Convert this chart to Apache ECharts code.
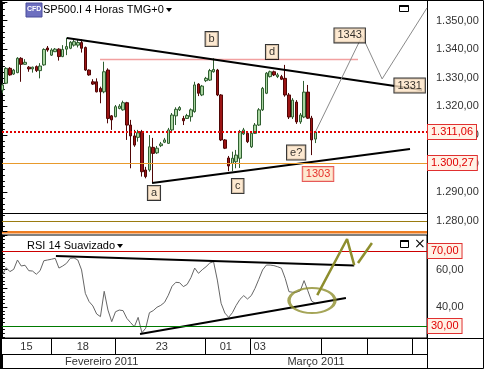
<!DOCTYPE html>
<html><head><meta charset="utf-8">
<script src="https://cdn.jsdelivr.net/npm/echarts@6/dist/echarts.min.js"></script>
<style>html,body{margin:0;padding:0;background:#fff}#c{width:484px;height:369px}</style>
</head><body><div id="c"></div>
<script>
// ---- candle data (4h bars) ----
const opens  = [1325.7,1328.1,1333.3,1331.3,1331.8,1336.8,1334.7,1333.7,1333.1,1333.9,1332.5,1334.5,1340.4,1337.9,1339.1,1340.0,1337.4,1340.0,1340.3,1341.4,1341.4,1342.3,1340.6,1332.7,1328.6,1328.6,1326.3,1325.1,1332.7,1316.7,1316.4,1319.3,1318.8,1321.3,1313.5,1309.7,1309.2,1311.2,1297.8,1297.8,1305.7,1303.8,1306.3,1307.5,1307.1,1311.8,1316.7,1318.8,1315.8,1315.8,1316.4,1318.2,1327.8,1324.0,1329.0,1329.2,1332.1,1332.7,1324.0,1308.3,1302.0,1300.1,1300.7,1301.9,1310.4,1310.6,1305.9,1310.6,1313.5,1318.8,1324.6,1330.4,1332.1,1330.4,1330.4,1329.8,1324.0,1316.3,1321.5,1314.6,1316.3,1325.0,1315.9,1308.6];
const closes = [1327.5,1333.3,1331.0,1332.7,1336.8,1334.7,1335.4,1333.1,1333.7,1332.5,1334.1,1339.9,1339.7,1339.7,1340.0,1337.4,1339.9,1340.9,1342.4,1342.6,1342.3,1340.3,1332.7,1331.0,1327.8,1325.1,1325.1,1332.1,1315.8,1315.3,1319.9,1320.1,1321.3,1313.5,1309.7,1306.5,1310.8,1297.2,1295.5,1305.9,1303.6,1305.4,1306.9,1308.3,1311.8,1317.0,1319.0,1319.6,1315.0,1316.8,1318.8,1327.5,1324.6,1327.1,1329.8,1332.5,1332.9,1324.0,1308.3,1305.4,1299.2,1301.9,1303.0,1311.2,1311.8,1307.7,1310.6,1313.5,1318.8,1326.3,1331.6,1332.1,1331.0,1331.0,1329.5,1324.0,1316.3,1322.2,1314.6,1317.0,1325.0,1315.9,1308.3,1311.06];
const lows   = [1324.6,1327.8,1330.7,1331.0,1331.6,1328.6,1334.6,1332.1,1331.8,1332.0,1329.8,1334.2,1339.1,1337.6,1339.0,1336.0,1337.2,1337.9,1340.0,1340.9,1340.6,1338.8,1332.4,1330.7,1327.5,1324.9,1321.1,1324.6,1314.1,1311.8,1316.2,1319.0,1318.5,1308.3,1298.4,1305.9,1307.7,1295.5,1294.9,1297.2,1293.2,1303.4,1305.8,1307.2,1306.9,1311.4,1313.5,1318.4,1313.5,1315.6,1314.7,1317.8,1323.6,1323.6,1328.5,1328.9,1331.8,1323.6,1307.9,1305.1,1297.4,1297.4,1298.4,1298.5,1310.0,1307.2,1305.5,1310.4,1313.2,1318.4,1324.3,1330.1,1330.6,1329.9,1329.2,1323.4,1315.6,1315.6,1313.9,1313.9,1315.9,1315.6,1303.0,1307.2];
const highs  = [1328.1,1333.7,1333.7,1333.1,1337.2,1337.2,1336.5,1334.1,1333.9,1334.3,1335.1,1340.3,1341.1,1340.3,1340.4,1340.3,1341.4,1344.0,1342.8,1343.2,1343.2,1343.4,1340.9,1332.9,1329.5,1329.8,1326.9,1335.6,1333.3,1317.0,1320.5,1320.8,1322.0,1321.6,1315.3,1311.8,1311.8,1311.8,1298.9,1310.0,1309.0,1306.2,1307.6,1309.0,1312.5,1317.7,1319.7,1320.1,1316.7,1317.4,1319.3,1328.6,1328.1,1327.5,1330.3,1333.1,1336.8,1333.1,1324.3,1308.6,1302.7,1304.2,1304.8,1311.8,1312.5,1311.1,1311.1,1314.2,1319.4,1326.8,1332.0,1332.5,1332.5,1331.7,1331.0,1334.5,1324.7,1322.9,1322.2,1317.7,1328.9,1327.5,1316.7,1311.3];
// ---- RSI 14 smoothed ----
const rsiValues = [57.2,61.1,59.0,60.2,65.2,62.0,62.4,59.5,59.3,57.6,59.5,64.8,65.2,65.6,66.1,60.9,62.0,63.4,66.1,66.3,65.2,59.9,47.4,43.0,40.7,36.4,35.0,48.5,38.5,32.3,37.6,38.5,38.2,34.1,31.8,29.6,34.6,26.4,28.8,37.1,38.2,40.0,41.0,42.6,46.4,51.2,53.3,53.1,51.0,52.2,55.8,60.9,58.1,60.0,61.6,63.6,64.3,54.5,42.1,36.9,34.6,37.1,41.0,44.2,46.2,44.4,46.2,50.1,54.9,59.9,62.5,62.5,62.2,61.6,60.8,55.4,48.3,48.0,48.0,48.8,54.2,48.8,43.3,42.1];
// ---- time axis ----
const slotCount = 113;
const dayLabels = {6:'15', 21:'18', 42:'23', 59:'01', 68:'03'};
const daySeparators = [13, 30, 54, 66, 85, 97, 109];
const monthLabels = {26:'Fevereiro 2011', 83:'Março 2011'};
const monthSeparators = [54];
// ---- levels & annotations ----
const lastPrice = 1311.06;
const supportPrice = 1300.27;
const lowerLevels = [1282.8, 1280.0];
const rsiUpper = 70, rsiLower = 30;
const priceTopTrend = [[17.1, 1343.9], [111.3, 1325.7]];
const priceBottomTrend = [[39.7, 1293.3], [108.1, 1305.1]];
const resistanceLine = [[25.9, 1336.4], [94.3, 1336.4]];
const projectionPath = [[83, 1311.06], [95.4, 1344.6], [100.7, 1329.6], [112.6, 1354.4]];
const waveLabelNames = ['a', 'b', 'c', 'd', 'e?', '1303', '1343', '1331'];
const waveLabelX = [40.2, 55.5, 62.4, 71.5, 77.9, 83.7, 92.1, 108.0];
const waveLabelY = [1289.8, 1343.5, 1292.2, 1339.0, 1303.9, 1296.4, 1344.8, 1327.3];
const rsiTopTrend = [[14.2, 67.3], [93.3, 62.2]];
const rsiBottomTrend = [[36.5, 25.7], [91.1, 44.9]];
const rsiProjectionA = [[83.5, 46.5], [91.4, 76.4], [93.3, 62.5]];
const rsiProjectionB = [[94.3, 63.6], [98.0, 74.3]];
const rsiCircleCenter = [82.1, 43.6];

const FONT = '"Liberation Sans", Arial, sans-serif';
function fmt(v) {
  const s = v.toFixed(2).split('.');
  return s[0].replace(/\B(?=(\d{3})+(?!\d))/g, '.') + ',' + s[1];
}
const redBox = {
  show: true, position: 'end', distance: 1, formatter: p => fmt(p.value),
  color: '#e00000', fontFamily: FONT, fontSize: 11, backgroundColor: '#fff2e6',
  borderColor: '#e03030', borderWidth: 1, padding: [2, 3, 1, 3]
};
const X0 = -0.1, X1 = 112.6;
const cats = Array.from({length: slotCount}, (_, i) => String(i));

const chart = echarts.init(document.getElementById('c'), null, {renderer: 'canvas'});
const option = {
  animation: false,
  backgroundColor: '#fff',
  grid: [
    {left: 2, top: 2, width: 425, height: 229, show: false},
    {left: 2, top: 235, width: 425, height: 103, show: true, borderColor: '#000', borderWidth: 1, backgroundColor: 'transparent'}
  ],
  xAxis: [
    {type: 'value', gridIndex: 0, min: X0, max: X1, show: false},
    {type: 'value', gridIndex: 1, min: X0, max: X1, show: false},
    {type: 'category', gridIndex: 1, data: cats, boundaryGap: true, position: 'bottom',
      axisLine: {show: true, lineStyle: {color: '#000', width: 1}},
      axisTick: {show: true, length: 16, lineStyle: {color: '#000'}, interval: (i) => daySeparators.includes(i)},
      axisLabel: {show: true, interval: (i) => dayLabels[i] !== undefined, formatter: (v, i) => dayLabels[i] || '',
        margin: 3, color: '#333', fontFamily: FONT, fontSize: 11},
      splitLine: {show: false}},
    {type: 'category', gridIndex: 1, data: cats, boundaryGap: true, position: 'bottom', offset: 16,
      axisLine: {show: true, lineStyle: {color: '#000', width: 1}},
      axisTick: {show: true, length: 14, lineStyle: {color: '#000'}, interval: (i) => monthSeparators.includes(i)},
      axisLabel: {show: true, interval: (i) => monthLabels[i] !== undefined, formatter: (v, i) => monthLabels[i] || '',
        margin: 2, color: '#333', fontFamily: FONT, fontSize: 11},
      splitLine: {show: false}}
  ],
  yAxis: [
    {type: 'value', gridIndex: 0, position: 'right', min: 1276.5, max: 1356.46, splitNumber: 8, scale: true,
      axisLine: {show: true, lineStyle: {color: '#000'}},
      axisTick: {show: true, length: 5, lineStyle: {color: '#000'}},
      minorTick: {show: true, splitNumber: 5, length: 2.5, lineStyle: {color: '#000'}},
      axisLabel: {margin: 9, color: '#333', fontFamily: FONT, fontSize: 11, showMinLabel: false, showMaxLabel: false,
        formatter: v => (Math.abs(v % 10) < 1e-6 ? fmt(v) : '')},
      splitLine: {show: false}},
    {type: 'value', gridIndex: 1, position: 'right', min: 23.6, max: 78.53, splitNumber: 5, scale: true,
      axisLine: {show: true, lineStyle: {color: '#000'}},
      axisTick: {show: true, length: 5, lineStyle: {color: '#000'}},
      minorTick: {show: true, splitNumber: 5, length: 2.5, lineStyle: {color: '#000'}},
      axisLabel: {margin: 9, color: '#333', fontFamily: FONT, fontSize: 11, showMinLabel: false, showMaxLabel: false,
        formatter: v => (v === 40 || v === 60 ? fmt(v) : '')},
      splitLine: {show: false}}
  ],
  series: [
    {type: 'candlestick', name: 'SP500.I', xAxisIndex: 0, yAxisIndex: 0, barWidth: 3, z: 3,
      data: opens.map((o, i) => [i, o, closes[i], lows[i], highs[i]]),
      itemStyle: {color: '#a8d4a0', color0: '#9c1414', borderColor: '#2f5f2f', borderColor0: '#500606', borderWidth: 1},
      markLine: {symbol: 'none', silent: true, animation: false,
        data: [
          {yAxis: lastPrice, lineStyle: {color: '#e00000', width: 2, type: [2, 2]}, label: redBox},
          {yAxis: supportPrice, lineStyle: {color: '#e89a2c', width: 1, type: 'solid'}, label: redBox},
          {yAxis: lowerLevels[0], lineStyle: {color: '#000', width: 1, type: 'solid'}, label: {show: false}},
          {yAxis: lowerLevels[1], lineStyle: {color: '#9a7b10', width: 1, type: 'solid'}, label: {show: false}}
        ]}},
    {type: 'line', xAxisIndex: 0, yAxisIndex: 0, data: resistanceLine, symbol: 'none', silent: true, z: 2,
      lineStyle: {color: '#f2a0a0', width: 1.5}},
    {type: 'line', xAxisIndex: 0, yAxisIndex: 0, data: priceTopTrend, symbol: 'none', silent: true, z: 4,
      lineStyle: {color: '#000', width: 2}},
    {type: 'line', xAxisIndex: 0, yAxisIndex: 0, data: priceBottomTrend, symbol: 'none', silent: true, z: 4,
      lineStyle: {color: '#000', width: 2}},
    {type: 'line', xAxisIndex: 0, yAxisIndex: 0, data: projectionPath, symbol: 'none', silent: true, z: 4,
      lineStyle: {color: '#8a8a8a', width: 1}},
    {type: 'scatter', xAxisIndex: 0, yAxisIndex: 0, symbolSize: 0, silent: true, z: 6,
      data: waveLabelNames.map((n, i) => ({name: n, value: [waveLabelX[i], waveLabelY[i]],
        label: n === '1303' ? {color: '#e00000', borderColor: '#e03030'} : {}})),
      label: {show: true, position: 'inside', formatter: p => p.name, color: '#000', fontFamily: FONT, fontSize: 11,
        backgroundColor: '#fde3c6', borderColor: '#000', borderWidth: 1, padding: [2, 3, 1, 3]}},
    {type: 'line', xAxisIndex: 1, yAxisIndex: 1, data: rsiValues.map((v, i) => [i, v]), symbol: 'none', silent: true, z: 3,
      lineStyle: {color: '#666', width: 1},
      markLine: {symbol: 'none', silent: true, animation: false,
        data: [
          {yAxis: rsiUpper, lineStyle: {color: '#cc0000', width: 1, type: 'solid'}, label: redBox},
          {yAxis: rsiLower, lineStyle: {color: '#007a00', width: 1, type: 'solid'}, label: redBox}
        ]}},
    {type: 'line', xAxisIndex: 1, yAxisIndex: 1, data: rsiTopTrend, symbol: 'none', silent: true, z: 4,
      lineStyle: {color: '#000', width: 2}},
    {type: 'line', xAxisIndex: 1, yAxisIndex: 1, data: rsiBottomTrend, symbol: 'none', silent: true, z: 4,
      lineStyle: {color: '#000', width: 2}},
    {type: 'line', xAxisIndex: 1, yAxisIndex: 1, data: rsiProjectionA, symbol: 'none', silent: true, z: 5,
      lineStyle: {color: '#8e8e2e', width: 2.5}},
    {type: 'line', xAxisIndex: 1, yAxisIndex: 1, data: rsiProjectionB, symbol: 'none', silent: true, z: 5,
      lineStyle: {color: '#8e8e2e', width: 2.5}},
    {type: 'scatter', xAxisIndex: 1, yAxisIndex: 1, data: [rsiCircleCenter], symbol: 'circle', symbolSize: [46, 25],
      silent: true, z: 5, itemStyle: {color: 'rgba(0,0,0,0)', borderColor: '#8e8e2e', borderWidth: 2.5}}
  ],
  graphic: [
    {type: 'rect', shape: {x: 0.5, y: 0.5, width: 483, height: 368}, style: {fill: null, stroke: '#000', lineWidth: 1}, silent: true},
    {type: 'rect', shape: {x: 0, y: 0, width: 2, height: 369}, style: {fill: '#000'}, silent: true},
    {type: 'line', shape: {x1: 427.5, y1: 0, x2: 427.5, y2: 369}, style: {stroke: '#000', lineWidth: 1}, silent: true},
    {type: 'line', shape: {x1: 427, y1: 338.5, x2: 484, y2: 338.5}, style: {stroke: '#000', lineWidth: 1}, silent: true},
    {type: 'rect', shape: {x: 2, y: 231, width: 425, height: 2.5}, style: {fill: '#ee7d22'}, silent: true},
    {type: 'rect', shape: {x: 26, y: 3, width: 16, height: 14}, style: {fill: '#6d6fc0', stroke: '#4a4c9a', lineWidth: 1}, silent: true},
    {type: 'text', x: 27, y: 6, style: {text: 'CFD', fill: '#fff', font: 'bold 7px "Liberation Sans", sans-serif'}, silent: true},
    {type: 'text', x: 43, y: 4, style: {text: 'SP500.I 4 Horas TMG+0', fill: '#000', font: '11px ' + FONT}, silent: true},
    {type: 'polygon', shape: {points: [[166, 8], [172, 8], [169, 12]]}, style: {fill: '#000'}, silent: true},
    {type: 'rect', shape: {x: 399.5, y: 5.5, width: 9, height: 6}, style: {fill: null, stroke: '#000', lineWidth: 1}, silent: true},
    {type: 'rect', shape: {x: 399.5, y: 5, width: 9, height: 2}, style: {fill: '#000'}, silent: true},
    {type: 'text', x: 27, y: 240, style: {text: 'RSI 14 Suavizado', fill: '#000', font: '11px ' + FONT}, silent: true},
    {type: 'polygon', shape: {points: [[117, 244], [123, 244], [120, 248]]}, style: {fill: '#000'}, silent: true},
    {type: 'rect', shape: {x: 400.5, y: 240.5, width: 8, height: 7}, style: {fill: null, stroke: '#000', lineWidth: 1}, silent: true},
    {type: 'rect', shape: {x: 400.5, y: 240, width: 8, height: 2}, style: {fill: '#000'}, silent: true},
    {type: 'text', x: 414, y: 237, style: {text: '×', fill: '#000', font: '14px "DejaVu Sans", sans-serif'}, silent: true}
  ]
};
chart.setOption(option);
</script></body></html>
